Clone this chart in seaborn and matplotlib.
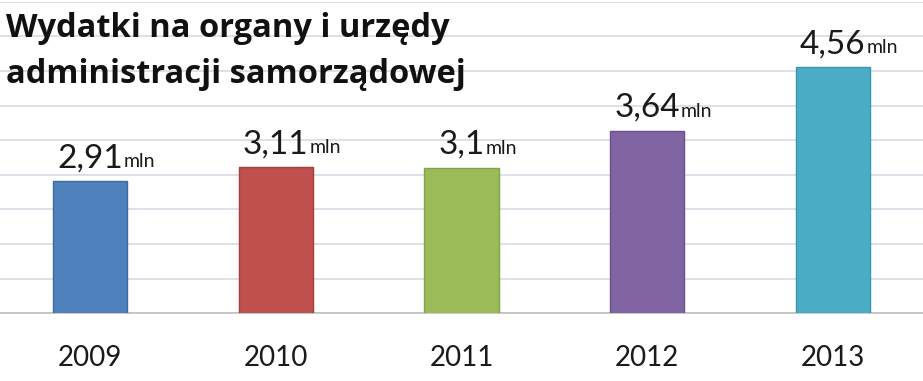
import numpy as np
import pandas as pd
import matplotlib
matplotlib.use('Agg')
import matplotlib.pyplot as plt
import seaborn as sns

# dane
years = ['2009', '2010', '2011', '2012', '2013']
values = [2.91, 3.11, 3.10, 3.64, 4.56]
labels = ['2,91', '3,11', '3,1', '3,64', '4,56']
colors = ['#4F81BD', '#C0504D', '#9BBB59', '#8064A2', '#4BACC6']
edges = ['#3A6BA5', '#A43E3B', '#84A346', '#6A508A', '#3796AE']
title_lines = ['Wydatki na organy i urzędy', 'administracji samorządowej']

df = pd.DataFrame({'rok': years, 'wartosc': values})

sns.set_theme(style='white')
plt.rcParams['font.family'] = ['Lato', 'DejaVu Sans']

fig = plt.figure(figsize=(9.23, 3.81), dpi=100)
ax = fig.add_axes([-0.003, 0.178, 1.006, 0.817])

sns.barplot(data=df, x='rok', y='wartosc', hue='rok', palette=colors,
            width=0.4, legend=False, ax=ax, saturation=1)
for p, ec in zip(ax.patches, edges):
    p.set_edgecolor(ec)
    p.set_linewidth(1)
    p.set_zorder(3)

ax.set_ylim(1, 5.5)
ax.set_xlim(-0.5, 4.5)
ax.set_yticks(np.arange(1, 5.51, 0.5))
ax.yaxis.grid(True, color='#D9D9E6', linewidth=1.2, zorder=0)
ax.set_axisbelow(True)
ax.tick_params(axis='y', left=False, labelleft=False)
ax.set_xlabel('')
ax.set_ylabel('')
for s in ['top', 'right', 'left']:
    ax.spines[s].set_visible(False)
ax.spines['bottom'].set_color('#BFBFBF')
ax.spines['bottom'].set_linewidth(1.2)

ax.tick_params(axis='x', which='major', length=0, pad=23, labelsize=20, labelcolor='#1A1A1A')
ax.set_xticks(np.arange(0.5, 4.5, 1), minor=True)
ax.tick_params(axis='x', which='minor', length=8, color='#BFBFBF', width=1.2)

# etykiety wartości
for i, (v, lab) in enumerate(zip(values, labels)):
    t = ax.annotate(lab, xy=(i, v), xytext=(0, 10), textcoords='offset points',
                    ha='center', va='baseline', fontsize=24, color='#1A1A1A')
    ax.annotate('mln', xy=(1, v), xycoords=(t, 'data'), xytext=(0.5, 10),
                textcoords='offset points', ha='left', va='baseline',
                fontsize=14, color='#1A1A1A')

# tytuł
for k, line in enumerate(title_lines):
    fig.text(0.007, 1 - (37 + 46 * k) / 381, line, ha='left', va='baseline',
             fontsize=23.5, fontweight='bold', color='#111111',
             family=['Open Sans', 'DejaVu Sans'])

fig.savefig('out.png', dpi=100)
